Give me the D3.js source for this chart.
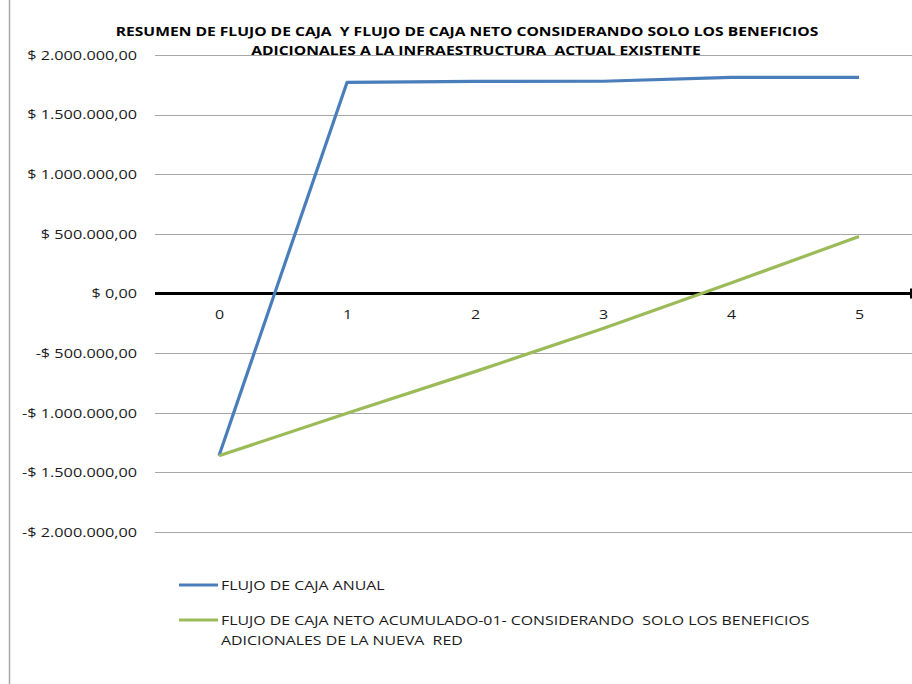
<!DOCTYPE html>
<html>
<head>
<meta charset="utf-8">
<script src="https://d3js.org/d3.v7.min.js"></script>
<style>
  html, body { margin: 0; padding: 0; background: #fff; }
  svg { display: block; font-family: "Open Sans", Lato, sans-serif; }
  svg text { white-space: pre; }
</style>
</head>
<body>
<svg id="chart" width="912" height="684"></svg>
<script>
// Years of the project horizon
const years = ["0", "1", "2", "3", "4", "5"];
// Annual cash flow
const flujoAnual = [-1360000, 1770000, 1778000, 1780000, 1812000, 1812000];
// Cumulative net cash flow, additional benefits only
const flujoNetoAcumulado = [-1360000, -1005000, -655000, -294000, 88000, 478000];
// Y axis tick values
const yTicks = [2000000, 1500000, 1000000, 500000, 0, -500000, -1000000, -1500000, -2000000];

const titleLines = [
  "RESUMEN DE FLUJO DE CAJA  Y FLUJO DE CAJA NETO CONSIDERANDO SOLO LOS BENEFICIOS",
  "ADICIONALES A LA INFRAESTRUCTURA  ACTUAL EXISTENTE"
];
const seriesNames = [
  ["FLUJO DE CAJA ANUAL"],
  ["FLUJO DE CAJA NETO ACUMULADO-01- CONSIDERANDO  SOLO LOS BENEFICIOS", "ADICIONALES DE LA NUEVA  RED"]
];
const colors = ["#4a7ebb", "#9bbb59"];

const svg = d3.select("#chart");
const plot = { left: 155, right: 923, top: 55, bottom: 532 };
const font = "'Open Sans', Lato, sans-serif";

// Widen glyphs horizontally to the wide sans look of the original typeface
function widen(sel, k) {
  sel.each(function () {
    const w = this.getComputedTextLength();
    d3.select(this).attr("textLength", w * k).attr("lengthAdjust", "spacingAndGlyphs");
  });
}

// Money format: "$ 1.500.000,00" / "-$ 500.000,00"
function money(v) {
  const s = Math.abs(v).toFixed(2).split(".");
  const intPart = s[0].replace(/\B(?=(\d{3})+(?!\d))/g, ".");
  return (v < 0 ? "-" : "") + "$ " + intPart + "," + s[1];
}

const x = d3.scalePoint().domain(years).range([plot.left, plot.right]).padding(0.5);
const y = d3.scaleLinear().domain([-2000000, 2000000]).range([plot.bottom, plot.top]);

// Chart area border on the left
svg.append("line")
  .attr("x1", 9.5).attr("x2", 9.5).attr("y1", 0).attr("y2", 684)
  .attr("stroke", "#a6a6a6").attr("stroke-width", 1.5);

// Horizontal grid lines
svg.append("g")
  .selectAll("line")
  .data(yTicks.filter(d => d !== 0))
  .join("line")
  .attr("x1", plot.left).attr("x2", 912)
  .attr("y1", d => Math.round(y(d)) + 0.5).attr("y2", d => Math.round(y(d)) + 0.5)
  .attr("stroke", "#a6a6a6").attr("stroke-width", 1.2);

// Y axis labels
const yAxis = d3.axisLeft(y).tickValues(yTicks).tickFormat(money).tickSize(0).tickPadding(18);
const gy = svg.append("g").attr("transform", `translate(${plot.left},0)`).call(yAxis);
gy.select(".domain").remove();
gy.selectAll("text").attr("font-size", 13.3).attr("fill", "#1a1a1a")
  .attr("font-family", font).call(widen, 1.22);

// Category axis at zero
const xAxis = d3.axisBottom(x).tickSize(0).tickPadding(16);
const gx = svg.append("g").attr("transform", `translate(0,${y(0)})`).call(xAxis);
gx.select(".domain").remove();
gx.selectAll("text").attr("font-size", 13.3).attr("fill", "#1a1a1a")
  .attr("font-family", font).call(widen, 1.2);
svg.append("line")
  .attr("x1", plot.left).attr("x2", 912).attr("y1", y(0)).attr("y2", y(0))
  .attr("stroke", "#000").attr("stroke-width", 3.2);
svg.append("line")
  .attr("x1", 911).attr("x2", 911).attr("y1", y(0) - 5).attr("y2", y(0) + 5)
  .attr("stroke", "#000").attr("stroke-width", 2);

// Series lines
const line = d3.line().x((d, i) => x(years[i])).y(d => y(d));
[flujoAnual, flujoNetoAcumulado].forEach((vals, k) => {
  svg.append("path")
    .datum(vals)
    .attr("d", line)
    .attr("fill", "none")
    .attr("stroke", colors[k])
    .attr("stroke-width", 3.2)
    .attr("stroke-linejoin", "round");
});

// Title
svg.append("g").selectAll("text")
  .data(titleLines)
  .join("text")
  .attr("x", (d, i) => i === 0 ? 467 : 476).attr("y", (d, i) => 36 + i * 19)
  .attr("text-anchor", "middle")
  .attr("font-size", 12.6).attr("font-weight", "bold").attr("fill", "#000")
  .attr("font-family", font)
  .text(d => d)
  .call(widen, 1.24);

// Legend
const legendY = [585, 620];
seriesNames.forEach((lines, k) => {
  const g = svg.append("g");
  g.append("line")
    .attr("x1", 179).attr("x2", 218)
    .attr("y1", legendY[k]).attr("y2", legendY[k])
    .attr("stroke", colors[k]).attr("stroke-width", 3.2);
  g.selectAll("text")
    .data(lines)
    .join("text")
    .attr("x", 221).attr("y", (d, i) => legendY[k] + 5 + i * 20)
    .attr("font-size", 12.8).attr("fill", "#1a1a1a")
    .attr("font-family", font)
    .text(d => d)
    .call(widen, 1.24);
});
</script>
</body>
</html>
